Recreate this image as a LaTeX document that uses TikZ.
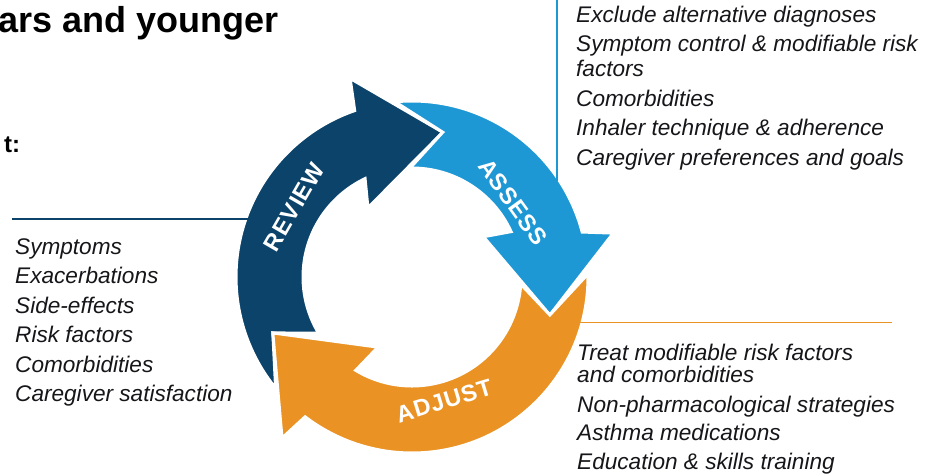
\documentclass[tikz,border=0pt]{standalone}
\usepackage{fontspec}
\setmainfont{Liberation Sans}
\newfontfamily\ringfont[LetterSpace=4]{Liberation Sans}
\definecolor{reviewblue}{RGB}{11,67,107}
\definecolor{assessblue}{RGB}{30,152,212}
\definecolor{adjustorange}{RGB}{234,147,36}
\definecolor{listgrey}{RGB}{22,22,26}
\begin{document}
\begin{tikzpicture}[x=1pt, y=-1pt,
  ring/.style={draw=white, line width=3pt, line join=miter},
  ringlabel/.style={text=white, inner sep=0pt, font=\ringfont\bfseries\fontsize{23.5}{23.5}\selectfont},
  items/.style={anchor=north west, inner sep=0pt, align=left, text=listgrey, font=\fontsize{22.6}{29.5}\selectfont\itshape},
  lead/.style={line width=1.4pt}]
\useasboundingbox (0,0) rectangle (926,476);

% heading, cut off at the left
\node[anchor=base west, inner sep=0pt, font=\bfseries\fontsize{36}{36}\selectfont] (title) at (-2,33) {ars and younger};
\node[anchor=base west, inner sep=0pt, font=\bfseries\fontsize{24}{24}\selectfont] (subhead) at (4,153) {t:};

% the cycle
\begin{scope}[shift={(412,277)}, y=1pt]
\path[ring, fill=reviewblue] (219.2:176) arc[start angle=219.2, end angle=109, radius=176]
  -- (107.3:208) -- (78:148) -- (122.5:82) -- (115.5:109)
  arc[start angle=115.5, end angle=211, radius=109] -- (201.9:150) -- cycle;
\path[ring, fill=assessblue] (95.5:176) arc[start angle=95.5, end angle=14.8, radius=176]
  -- (12.3:206) -- (-15.4:143) -- (29.4:82) -- (24.6:109)
  arc[start angle=24.6, end angle=91, radius=109] -- (78:148) -- cycle;
\path[ring, fill=adjustorange] (1:176) arc[start angle=1, end angle=-127.4, radius=176]
  -- (-128.9:207) -- (-158.1:150) -- (-115.9:78) -- (-121.1:109)
  arc[start angle=-121.1, end angle=-3.8, radius=109] -- (-15.4:143) -- cycle;
\end{scope}

\node[ringlabel, rotate=60] (review) at (294,207) {REVIEW};
\node[ringlabel, rotate=-54] (assess) at (513,202) {ASSESS};
\node[ringlabel, rotate=17] (adjust) at (444,401) {ADJUST};

% lists
\node[items] (reviewlist) at (15,233.35) {\strut Symptoms\\Exacerbations\\Side-effects\\Risk factors\\Comorbidities\\Caregiver satisfaction};
\node[items] (assesslist) at (576,1.35) {\strut Exclude alternative diagnoses\\Symptom control \& modifiable risk\\[-4.5pt]factors\\Comorbidities\\Inhaler technique \& adherence\\Caregiver preferences and goals};
\node[items] (adjustlist) at (577,339.35) {\strut Treat modifiable risk factors\\[-7pt]and comorbidities\\Non-pharmacological strategies\\[-1pt]Asthma medications\\[-1pt]Education \& skills training};

% leader lines
\coordinate (reviewtap) at (12,219);
\coordinate (reviewhit) at (248,219);
\coordinate (assesstap) at (557,-2);
\coordinate (assesshit) at (557,180.5);
\coordinate (adjusttap) at (892,322.5);
\coordinate (adjusthit) at (580,322.5);
\draw[lead, reviewblue] (reviewtap) -- (reviewhit);
\draw[lead, assessblue] (assesstap) -- (assesshit);
\draw[lead, adjustorange] (adjusttap) -- (adjusthit);
\end{tikzpicture}
\end{document}
